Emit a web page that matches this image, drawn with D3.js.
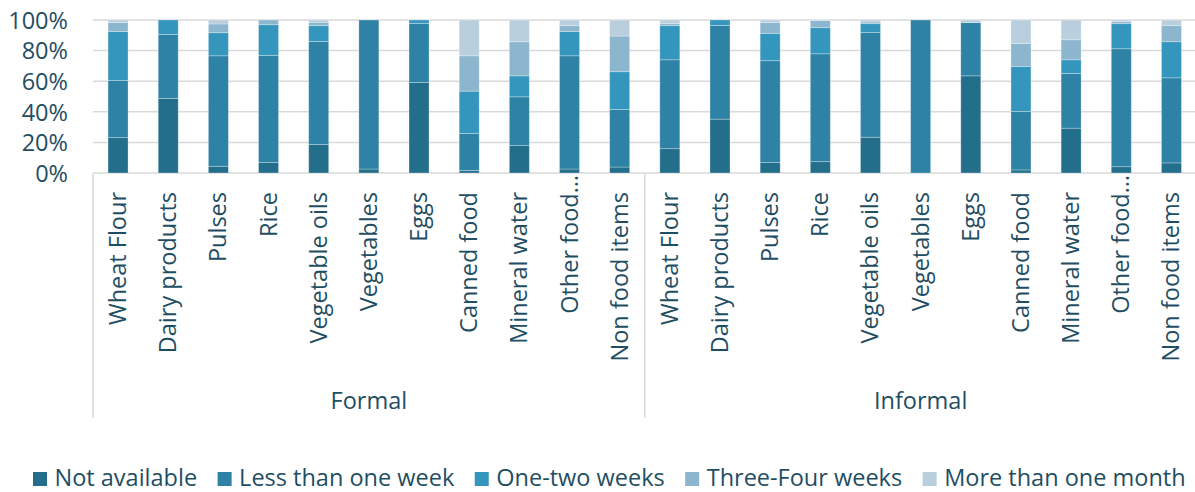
<!DOCTYPE html>
<html><head><meta charset="utf-8">
<script src="https://cdn.jsdelivr.net/npm/d3@7"></script>
<style>
html,body{margin:0;padding:0;background:#fff;}
svg text{font-family:"Open Sans",sans-serif;fill:#1f4e63;}
</style></head>
<body><svg id="chart" width="1195" height="492"></svg>
<script>
const groups = ["Formal", "Informal"];
const items = ["Wheat Flour","Dairy products","Pulses","Rice","Vegetable oils","Vegetables","Eggs","Canned food","Mineral water","Other food…","Non food items"];
const seriesNames = ["Not available","Less than one week","One-two weeks","Three-Four weeks","More than one month"];
const yTicks = [0, 20, 40, 60, 80, 100];
// values per bar (Formal 11 then Informal 11), percent
const notAvailable   = [23.1, 48.7, 4.4, 6.8, 18.6, 2.6, 59.2, 1.7, 17.9, 2.6, 3.9,   15.9, 35.2, 6.8, 7.4, 23.4, 0, 63.5, 2.0, 29.3, 4.1, 6.6];
const lessThanWeek   = [37.4, 41.9, 72.2, 70.1, 67.4, 97.4, 38.6, 24.1, 31.9, 74.0, 37.6,  58.1, 61.3, 66.6, 70.5, 68.5, 100, 34.8, 38.2, 35.8, 77.1, 55.6];
const oneTwoWeeks    = [31.9, 9.4, 15.1, 20.0, 10.3, 0, 2.2, 27.7, 13.7, 15.8, 24.7,   22.3, 3.5, 17.9, 17.1, 5.7, 0, 0, 29.5, 8.9, 16.4, 23.6];
const threeFourWeeks = [5.9, 0, 5.7, 3.1, 2.2, 0, 0, 23.1, 22.3, 3.9, 23.3,           1.5, 0, 7.0, 4.6, 1.1, 0, 0, 15.0, 13.1, 1.3, 10.7];
const moreThanMonth  = [1.7, 0, 2.6, 0, 1.5, 0, 0, 23.4, 14.2, 3.7, 10.5,             2.2, 0, 1.7, 0.4, 1.3, 0, 1.7, 15.3, 12.9, 1.1, 3.5];
const colors = ["#236f8b", "#2d82a5", "#3596bd", "#8cb5ce", "#b9cfdd"];

const seriesArrays = [notAvailable, lessThanWeek, oneTwoWeeks, threeFourWeeks, moreThanMonth];
const rows = [];
groups.forEach((g, gi) => items.forEach((it, ii) => {
  const idx = gi * items.length + ii;
  const r = {key: g + "|" + it, group: g, item: it};
  seriesNames.forEach((s, si) => r[s] = seriesArrays[si][idx]);
  rows.push(r);
}));

const svg = d3.select("#chart");
const mLeft = 93, mRight = 1196.5, mTop = 20, mBottom = 173;
const x = d3.scaleBand().domain(rows.map(r => r.key)).range([mLeft, mRight]).paddingInner(0.6013).paddingOuter(0.3);
const y = d3.scaleLinear().domain([0, 100]).range([mBottom, mTop]);

// gridlines
svg.append("g").selectAll("line").data(yTicks).join("line")
  .attr("x1", mLeft).attr("x2", 1195).attr("y1", d => y(d)).attr("y2", d => y(d))
  .attr("stroke", "#d9d9d9").attr("stroke-width", 1.5);

// y axis labels
const yAxis = d3.axisLeft(y).tickValues(yTicks).tickFormat(d => d + "%").tickSize(0).tickPadding(0);
const ya = svg.append("g").attr("transform", "translate(68,0)").call(yAxis);
ya.select(".domain").remove();
ya.selectAll("text").style("font-size", "23.5px").style("font-family", "'Open Sans',sans-serif").attr("dy", "0.35em").attr("fill", "#1f4e63");

// stacked bars
const stack = d3.stack().keys(seriesNames)(rows);
svg.append("g").selectAll("g").data(stack).join("g")
  .attr("fill", (d, i) => colors[i])
  .selectAll("rect").data(d => d.filter(p => p[1] - p[0] > 0)).join("rect")
  .attr("x", d => x(d.data.key)).attr("width", x.bandwidth())
  .attr("y", d => y(d[1])).attr("height", d => y(d[0]) - y(d[1]))
  .attr("stroke", "rgba(255,255,255,0.35)").attr("stroke-width", 0.8);

// category axis lines
const step = x.step();
const sepX = [mLeft, mLeft + items.length * step, mRight];
svg.append("g").selectAll("line").data(sepX).join("line")
  .attr("x1", d => d).attr("x2", d => d).attr("y1", mBottom).attr("y2", 418)
  .attr("stroke", "#d9d9d9").attr("stroke-width", 1.5);

// category labels (rotated)
svg.append("g").selectAll("text").data(rows).join("text")
  .attr("transform", d => `translate(${x(d.key) + x.bandwidth() / 2 + 8},${d.item.endsWith("…") ? 175 : 192}) rotate(-90)`)
  .attr("text-anchor", "end").style("font-size", "23.5px").text(d => d.item);

// group labels
svg.append("g").selectAll("text").data(groups).join("text")
  .attr("x", (d, i) => mLeft + (i + 0.5) * items.length * step).attr("y", 401).attr("dy", "0.35em")
  .attr("text-anchor", "middle").style("font-size", "23.5px").text(d => d);

// legend
const lg = svg.append("g").attr("transform", "translate(33,486)");
let lx = 0;
seriesNames.forEach((s, i) => {
  const g = lg.append("g").attr("transform", `translate(${lx},0)`);
  g.append("rect").attr("x", 0).attr("y", -14).attr("width", 14).attr("height", 14).attr("fill", colors[i]);
  const t = g.append("text").attr("x", 21.5).attr("y", 0).style("font-size", "23.5px").text(s);
  lx += 21.5 + t.node().getComputedTextLength() + 20.5;
});
</script></body></html>
